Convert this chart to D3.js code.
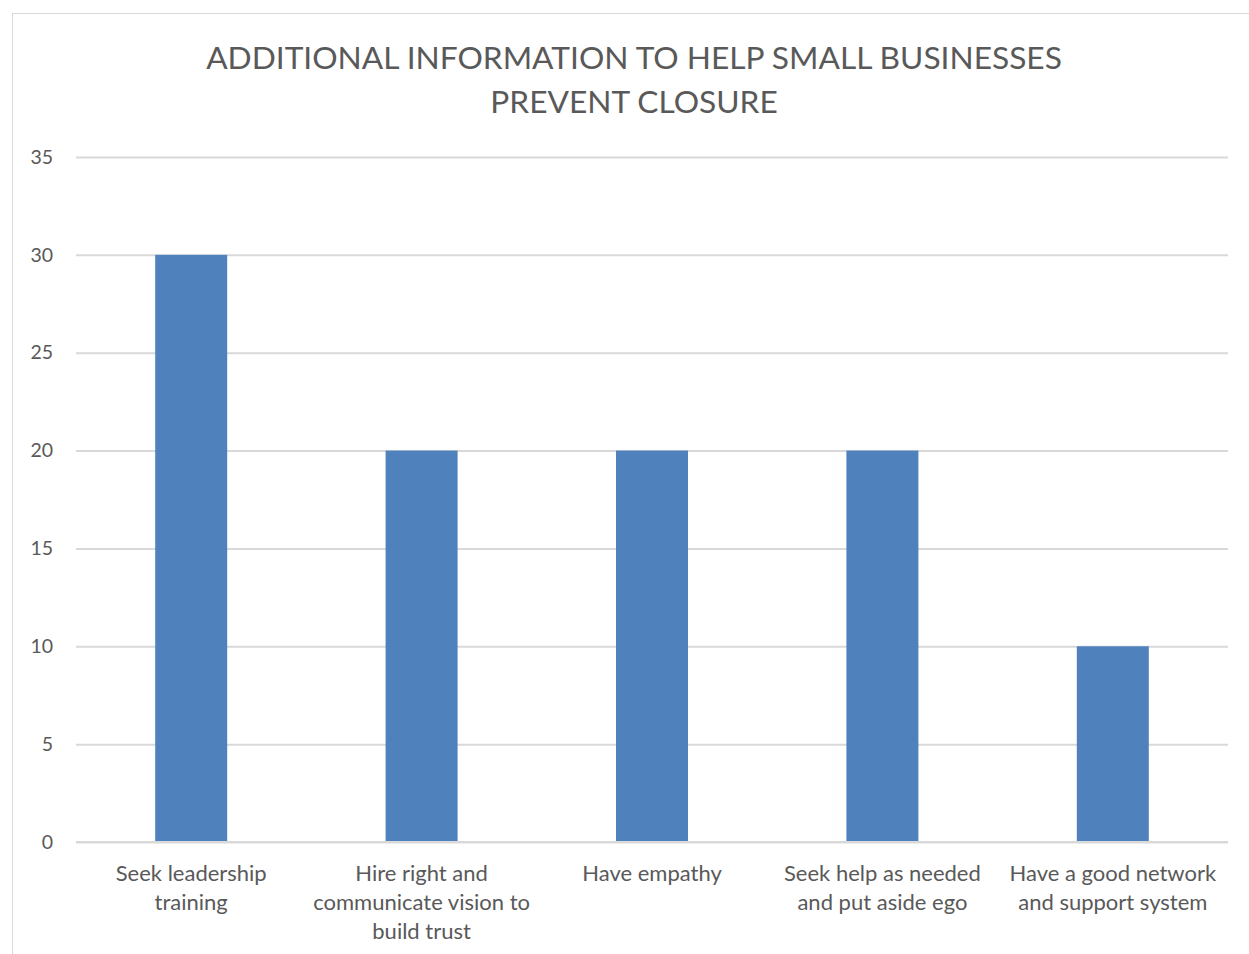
<!DOCTYPE html>
<html>
<head>
<meta charset="utf-8">
<script src="https://cdn.jsdelivr.net/npm/d3@7"></script>
<style>
  html, body { margin: 0; padding: 0; background: #fff; }
  svg { display: block; font-family: Lato, "Open Sans", sans-serif; }
</style>
</head>
<body>
<svg id="chart" width="1249" height="954"></svg>
<script>
const titleLines = ["ADDITIONAL INFORMATION TO HELP SMALL BUSINESSES", "PREVENT CLOSURE"];
// category names; "\n" marks where each label wraps
const categories = [
  "Seek leadership\ntraining",
  "Hire right and\ncommunicate vision to\nbuild trust",
  "Have empathy",
  "Seek help as needed\nand put aside ego",
  "Have a good network\nand support system"
];
const values = [30, 20, 20, 20, 10];
const yTicks = [0, 5, 10, 15, 20, 25, 30, 35];

const svg = d3.select("#chart");
const plot = { left: 76, right: 1228, top: 157, bottom: 842 };

// chart frame
svg.append("rect")
  .attr("x", 12.5).attr("y", 13.5)
  .attr("width", 1260).attr("height", 960)
  .attr("fill", "#fff").attr("stroke", "#d9d9d9").attr("stroke-width", 1);

// title
svg.append("text")
  .attr("x", 634).attr("y", 69)
  .attr("text-anchor", "middle")
  .attr("fill", "#595959")
  .style("font-size", "31.7px")
  .selectAll("tspan").data(titleLines).join("tspan")
  .attr("x", 634).attr("dy", (d, i) => i === 0 ? 0 : 44)
  .text(d => d);

const x = d3.scaleBand()
  .domain(categories)
  .range([plot.left, plot.right])
  .paddingInner(0.6875)
  .paddingOuter(0.34375);

const y = d3.scaleLinear()
  .domain([0, 35])
  .range([plot.bottom, plot.top]);

// gridlines and value labels
const yAxis = d3.axisLeft(y).tickValues(yTicks).tickSize(0).tickPadding(0);
const gy = svg.append("g").attr("transform", `translate(${plot.left},0)`).call(yAxis);
gy.select(".domain").remove();
gy.selectAll(".tick line").remove();
gy.selectAll(".tick").append("line")
  .attr("x1", 0).attr("x2", plot.right - plot.left)
  .attr("stroke", "#d9d9d9").attr("stroke-width", 2);
gy.selectAll(".tick text")
  .attr("x", -23)
  .attr("fill", "#595959")
  .style("font-size", "19.5px")
  .style("font-family", "Lato, 'Open Sans', sans-serif");

// bars
svg.append("g").selectAll("rect").data(values).join("rect")
  .attr("x", (d, i) => x(categories[i]))
  .attr("width", x.bandwidth())
  .attr("y", d => y(d))
  .attr("height", d => y(0) - y(d))
  .attr("fill", "#4f81bd");

// baseline drawn over the bars
svg.append("line")
  .attr("x1", plot.left).attr("x2", plot.right)
  .attr("y1", y(0)).attr("y2", y(0))
  .attr("stroke", "#d9d9d9").attr("stroke-width", 2);

// category labels
const xAxis = d3.axisBottom(x).tickSize(0).tickPadding(0);
const gx = svg.append("g").attr("transform", `translate(0,${plot.bottom})`).call(xAxis);
gx.select(".domain").remove();
gx.selectAll(".tick text")
  .attr("fill", "#595959")
  .style("font-size", "22px")
  .style("font-family", "Lato, 'Open Sans', sans-serif")
  .attr("dy", 0)
  .each(function(d) {
    const t = d3.select(this);
    t.text(null);
    d.split("\n").forEach((l, i) => {
      t.append("tspan").attr("x", 0).attr("y", 39 + i * 29).text(l);
    });
  });
</script>
</body>
</html>
